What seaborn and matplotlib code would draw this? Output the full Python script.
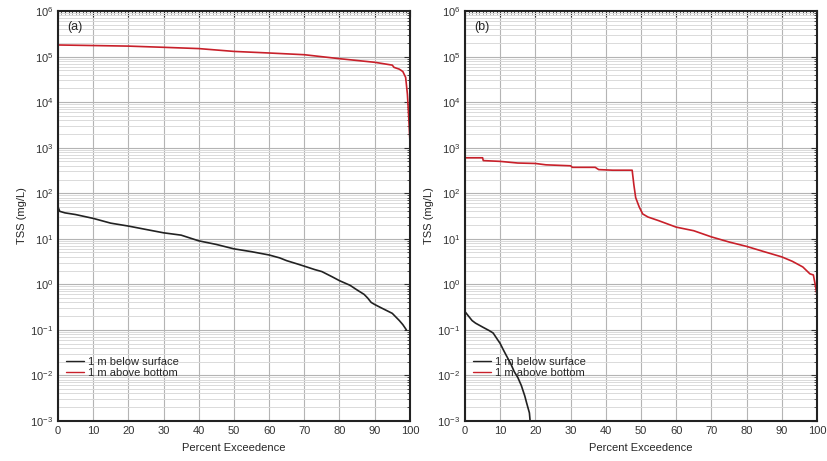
import numpy as np
import pandas as pd
import matplotlib
matplotlib.use("Agg")
import matplotlib.pyplot as plt
import matplotlib.ticker as mticker
import seaborn as sns

# --- data (percent exceedence vs TSS mg/L) ---
a_surf_x = [0, 0.5, 2, 5, 10, 15, 20, 25, 30, 35, 40, 45, 50, 55, 60, 63, 65, 68, 70, 73,
            75, 78, 80, 83, 85, 87, 88, 89, 90, 92, 95, 97, 98, 99]
a_surf_y = [50, 40, 37, 34, 28, 22, 19, 16, 13.5, 12, 9, 7.5, 6, 5.2, 4.4, 3.8, 3.3, 2.8,
            2.5, 2.1, 1.9, 1.45, 1.2, 0.95, 0.75, 0.6, 0.5, 0.4, 0.36, 0.3, 0.23, 0.16, 0.13, 0.1]
a_bot_x = [0, 10, 20, 30, 40, 50, 60, 70, 80, 90, 95, 95.5, 97, 98, 98.8, 99.3, 99.6, 99.8, 100]
a_bot_y = [1.8e5, 1.75e5, 1.7e5, 1.6e5, 1.5e5, 1.3e5, 1.2e5, 1.1e5, 9e4, 7.5e4, 6.5e4,
           5.8e4, 5.3e4, 4.7e4, 3.5e4, 1.5e4, 6e3, 3e3, 1.5e3]

b_surf_x = [0, 1, 2, 3, 5, 7, 8, 9, 10, 11, 12, 13, 14, 15, 16, 17, 17.5, 18.3, 18.5]
b_surf_y = [0.25, 0.2, 0.16, 0.14, 0.115, 0.095, 0.085, 0.065, 0.05, 0.035, 0.025, 0.018,
            0.012, 0.009, 0.006, 0.0035, 0.0025, 0.0015, 0.001]
b_bot_x = [0, 5, 5.2, 10, 15, 20, 23, 30, 30.5, 37, 38, 42, 47.5, 48, 48.5, 49.5, 50.5,
           52, 55, 60, 65, 70, 75, 80, 85, 90, 93, 96, 98, 99, 99.5, 100]
b_bot_y = [600, 600, 520, 500, 460, 450, 420, 400, 370, 370, 330, 320, 320, 150, 80, 50,
           35, 30, 25, 18, 15, 11, 8.5, 6.8, 5.2, 4, 3.2, 2.4, 1.7, 1.6, 1.0, 0.6]

labels = ["1 m below surface", "1 m above bottom"]
panels = ["(a)", "(b)"]
colors = {"1 m below surface": "#222222", "1 m above bottom": "#c8202a"}
y_decades = [1e-3, 1e-2, 1e-1, 1e0, 1e1, 1e2, 1e3, 1e4, 1e5, 1e6]


def make_df(sx, sy, bx, by):
    d1 = pd.DataFrame({"x": sx, "y": sy, "series": labels[0]})
    d2 = pd.DataFrame({"x": bx, "y": by, "series": labels[1]})
    return pd.concat([d1, d2], ignore_index=True)


dfs = [make_df(a_surf_x, a_surf_y, a_bot_x, a_bot_y),
       make_df(b_surf_x, b_surf_y, b_bot_x, b_bot_y)]

sns.set_style("white")
plt.rcParams['font.family'] = ['Liberation Sans', 'DejaVu Sans']

fig = plt.figure(figsize=(8.28, 4.61), dpi=100)
ax_a = fig.add_axes([0.070, 0.087, 0.425, 0.889])
ax_b = fig.add_axes([0.5616, 0.087, 0.425, 0.889])

minor_y = [m * d for d in y_decades[:-1] for m in range(2, 10)]

for ax, df, tag in zip([ax_a, ax_b], dfs, panels):
    ax.set_yscale("log")
    sns.lineplot(data=df, x="x", y="y", hue="series", palette=colors, ax=ax,
                 estimator=None, sort=False, linewidth=1.2)
    ax.set_xlim(0, 100)
    ax.set_ylim(1e-3, 1e6)
    ax.xaxis.set_major_locator(mticker.MultipleLocator(10))
    ax.xaxis.set_minor_locator(mticker.MultipleLocator(1))
    ax.yaxis.set_major_locator(mticker.FixedLocator(y_decades))
    ax.yaxis.set_major_formatter(mticker.LogFormatterSciNotation())
    ax.yaxis.set_minor_locator(mticker.FixedLocator(minor_y))
    ax.yaxis.set_minor_formatter(mticker.NullFormatter())
    ax.grid(True, which="major", axis="both", color="#b4b4b4", linewidth=0.8)
    ax.grid(True, which="minor", axis="y", color="#dadada", linewidth=0.7)
    ax.set_axisbelow(True)
    ax.tick_params(which="both", direction="in", top=True, right=True,
                   labelsize=8, colors="#333333")
    ax.tick_params(which="major", length=4, width=0.8)
    ax.tick_params(which="minor", length=2, width=0.6)
    for sp in ax.spines.values():
        sp.set_color("#222222")
        sp.set_linewidth(1.5)
    ax.set_xlabel("Percent Exceedence", fontsize=8, labelpad=5)
    ax.set_ylabel("TSS (mg/L)", fontsize=8, labelpad=2)
    ax.text(0.025, 0.975, tag, transform=ax.transAxes, fontsize=9, va="top", ha="left")
    leg = ax.legend(loc="lower left", bbox_to_anchor=(-0.005, 0.08), frameon=False,
                    fontsize=8, handlelength=1.6, handletextpad=0.4, labelspacing=0.1,
                    title=None)
    for line in leg.get_lines():
        line.set_linewidth(1.0)

fig.savefig("out.png", dpi=100)
